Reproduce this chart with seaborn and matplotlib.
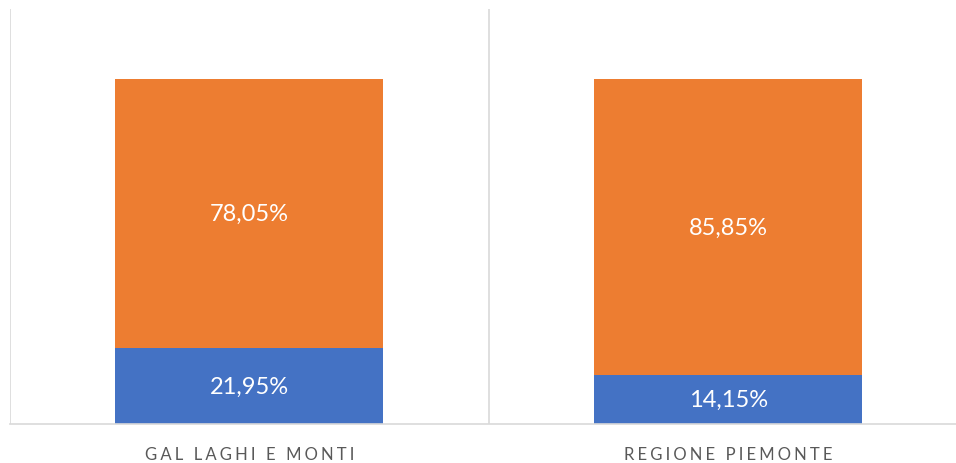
import matplotlib
matplotlib.use("Agg")
import matplotlib.pyplot as plt
import seaborn as sns
import pandas as pd

# dati
categorie = ["GAL LAGHI E MONTI", "REGIONE PIEMONTE"]
quota_blu = [21.95, 14.15]
quota_arancio = [78.05, 85.85]

BLU = "#4472C4"
ARANCIO = "#ED7D31"
GRIGIO = "#D9D9D9"

sns.set_style("white")
plt.rcParams['font.family'] = ['Lato', 'DejaVu Sans']

df = pd.DataFrame({
    "cat": categorie,
    "blu": [v / 100 for v in quota_blu],
    "arancio": [v / 100 for v in quota_arancio],
})
df["totale"] = df["blu"] + df["arancio"]

fig = plt.figure(figsize=(9.56, 4.64), dpi=100)
ax = fig.add_axes([10 / 956, 1 - 425 / 464, 946 / 956, 415 / 464])

# barre impilate: prima il totale (arancio), poi la parte blu sopra
sns.barplot(data=df, x="cat", y="totale", color=ARANCIO, saturation=1,
            width=0.56, linewidth=0, ax=ax)
sns.barplot(data=df, x="cat", y="blu", color=BLU, saturation=1,
            width=0.56, linewidth=0, ax=ax)

ax.set_xlim(-0.5, 1.476)
ax.set_ylim(0, 1.203)

# etichette dati
for i, row in df.iterrows():
    ax.text(i, row["blu"] / 2, f"{quota_blu[i]:.2f}%".replace(".", ","),
            ha="center", va="center", color="white", fontsize=17)
    ax.text(i, row["blu"] + row["arancio"] / 2,
            f"{quota_arancio[i]:.2f}%".replace(".", ","),
            ha="center", va="center", color="white", fontsize=17)

# separatori verticali tra categorie
for xv in [-0.5, 0.5]:
    ax.axvline(xv, color=GRIGIO, lw=1.2, zorder=0)

for s in ["top", "right", "left"]:
    ax.spines[s].set_visible(False)
ax.spines["bottom"].set_color(GRIGIO)
ax.spines["bottom"].set_linewidth(1.2)

ax.set_yticks([])
ax.set_xlabel("")
ax.set_ylabel("")
ax.set_xticks(range(len(categorie)))
ax.set_xticklabels(["\u2009\u200a".join(c) for c in categorie],
                   color="#595959", fontsize=12)
ax.tick_params(axis="x", length=0, pad=16)

fig.savefig("out.png", dpi=100)
